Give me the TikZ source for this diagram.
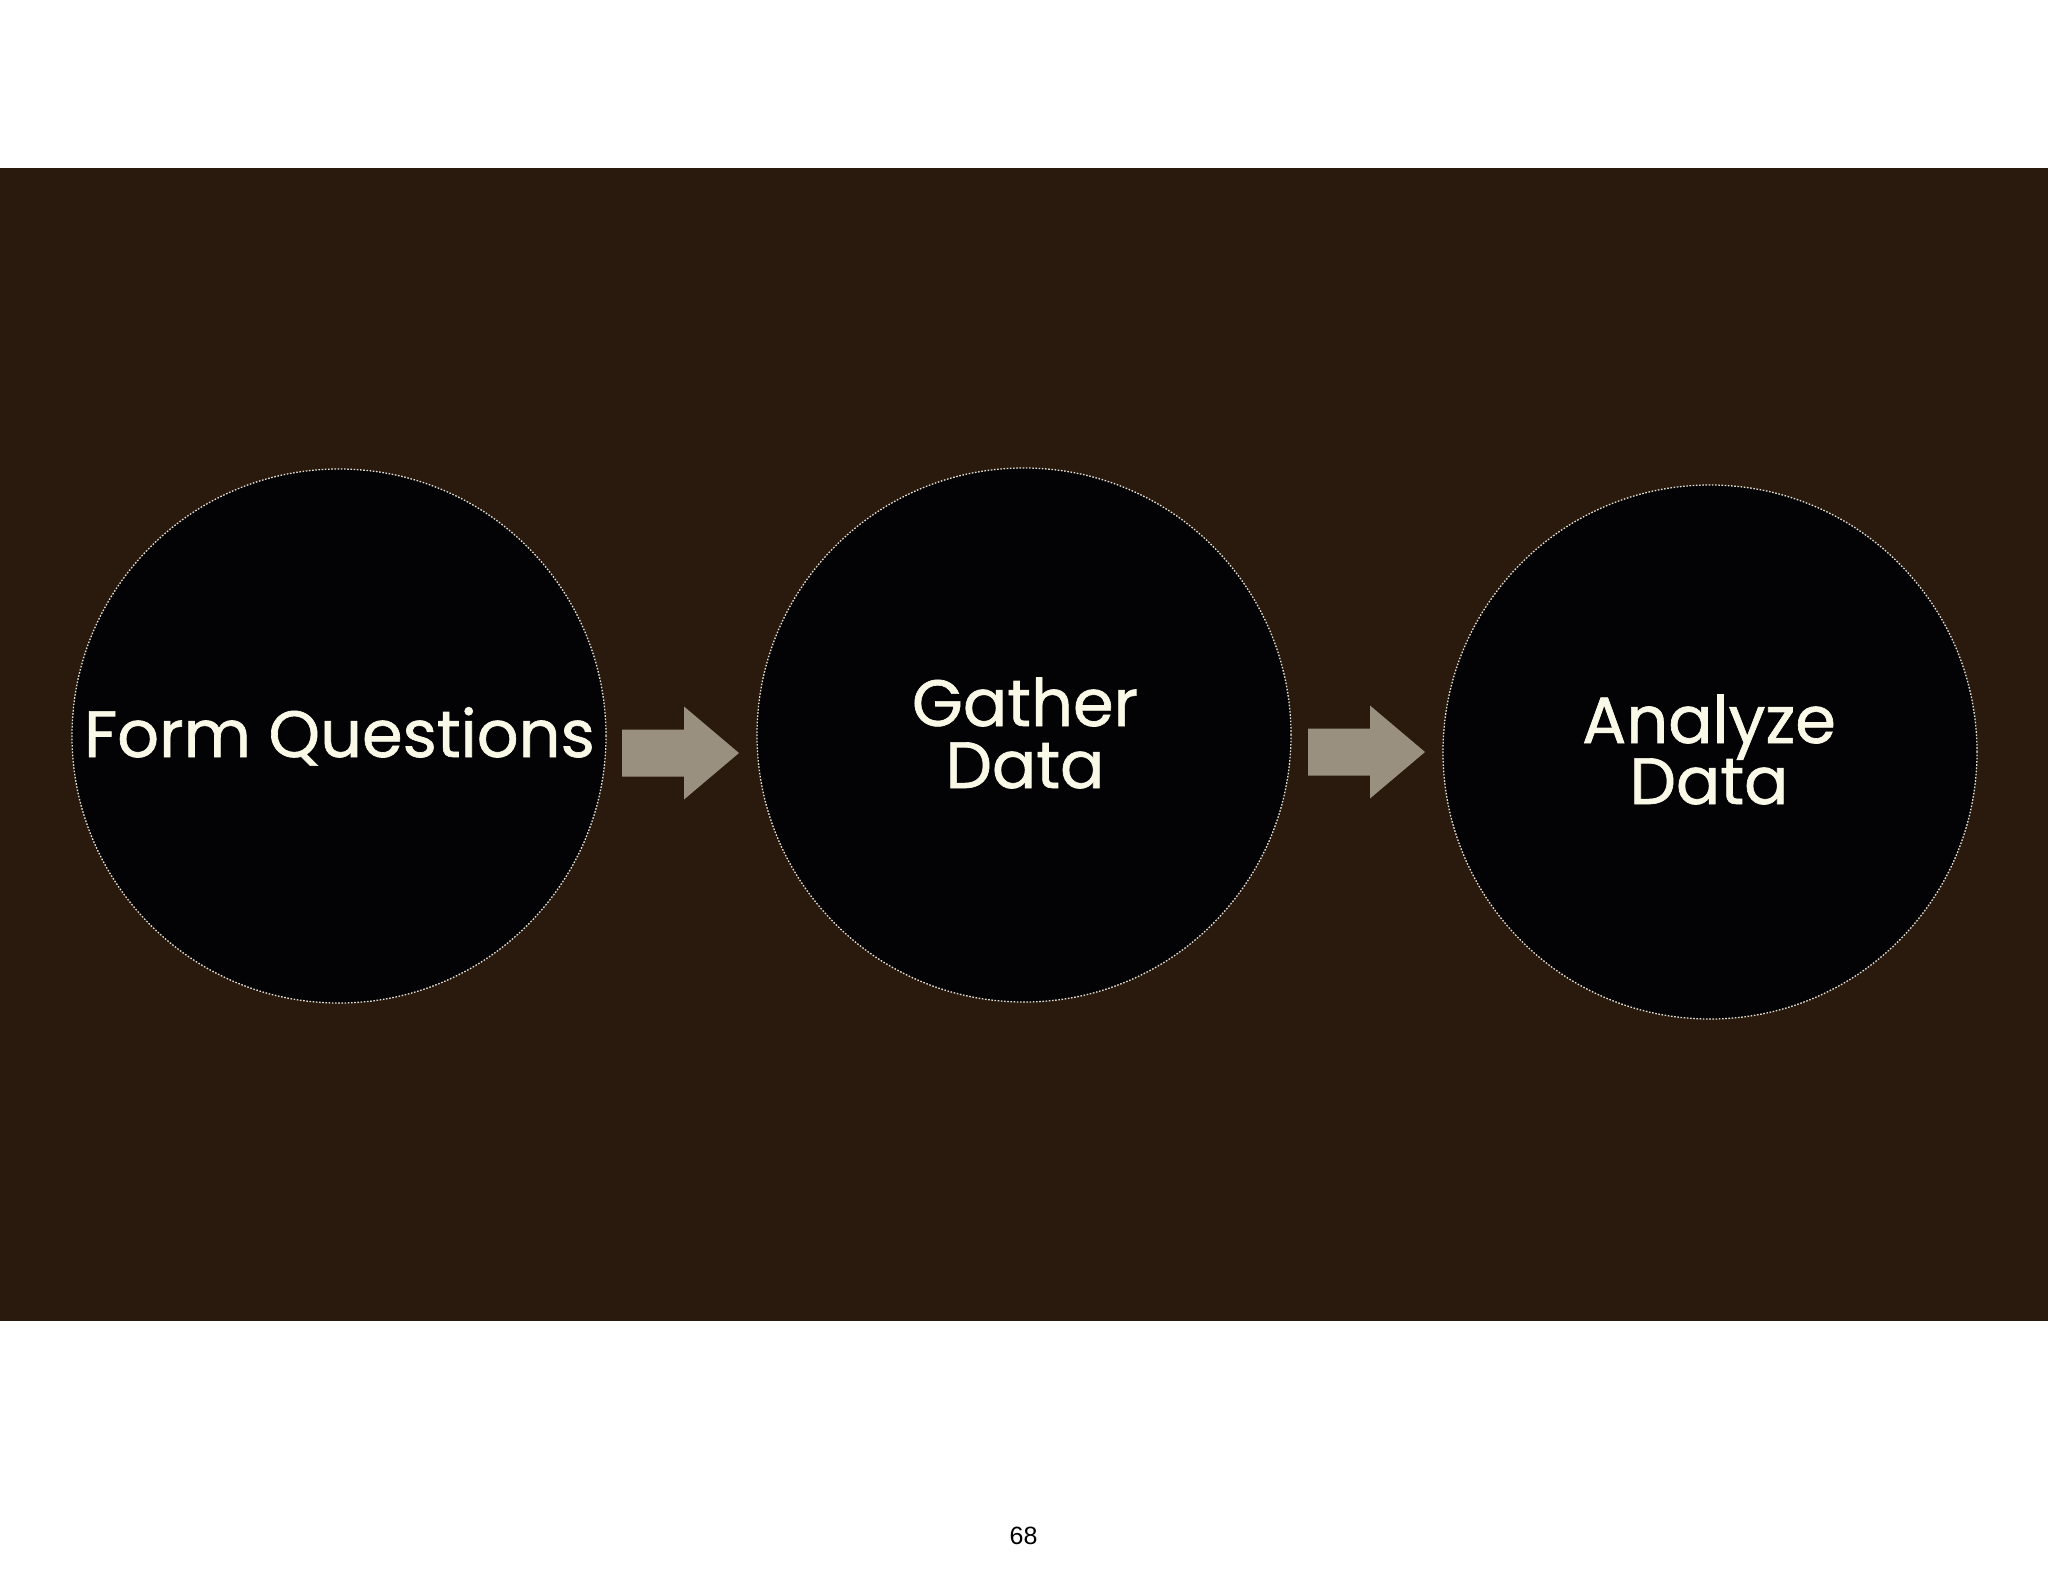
\documentclass[tikz,border=0pt]{standalone}
\usepackage{fontspec}
\setmainfont{Poppins}
\newfontfamily\lblfont{Poppins}[FakeBold=1.0]
\newfontfamily\pagefont{Liberation Sans}
\definecolor{bandbrown}{HTML}{2A190D}
\definecolor{discblack}{HTML}{030305}
\definecolor{labelcream}{HTML}{FAF8E6}
\definecolor{arrowgray}{HTML}{9A9080}
\definecolor{rimgray}{HTML}{E2DED2}
\begin{document}
\begin{tikzpicture}[x=1pt,y=-1pt,
  disc/.style={circle,fill=discblack,draw=rimgray,line width=1.3pt,
    dash pattern=on 1.6pt off 1.6pt,minimum size=534pt,inner sep=0pt},
  lbl/.style={text=labelcream,font=\lblfont\fontsize{65.5}{65.5}\selectfont,anchor=base,inner sep=0pt},
  flow/.style={fill=arrowgray,draw=none}]
\useasboundingbox (0,0) rectangle (2048,1582);
\fill[white] (0,0) rectangle (2048,1582);
\fill[bandbrown] (0,168) rectangle (2048,1321);
% circles
\node[disc] (c1) at (339,736) {};
\node[disc] (c2) at (1024,735) {};
\node[disc] (c3) at (1710,752) {};
% labels
\node[lbl] (t1) at (339.5,757) {Form Questions};
\node[lbl] (t2a) at (1025,726) {Gather};
\node[lbl] (t2b) at (1025,788) {Data};
\node[lbl] (t3a) at (1709,743) {Analyze};
\node[lbl] (t3b) at (1709,804) {Data};
% arrows
\coordinate (a1) at (622,753);
\coordinate (a2) at (1308,752);
\foreach \s in {a1,a2}{
  \fill[arrowgray] (\s) ++(0,-23.5) -- ++(62,0) -- ++(0,-23) -- ++(55,46.5)
    -- ++(-55,46.5) -- ++(0,-23) -- ++(-62,0) -- cycle;
}
% page number
\node[font=\pagefont\fontsize{25}{25}\selectfont,anchor=base,inner sep=0pt] (pg) at (1023.5,1544) {68};
\end{tikzpicture}
\end{document}
